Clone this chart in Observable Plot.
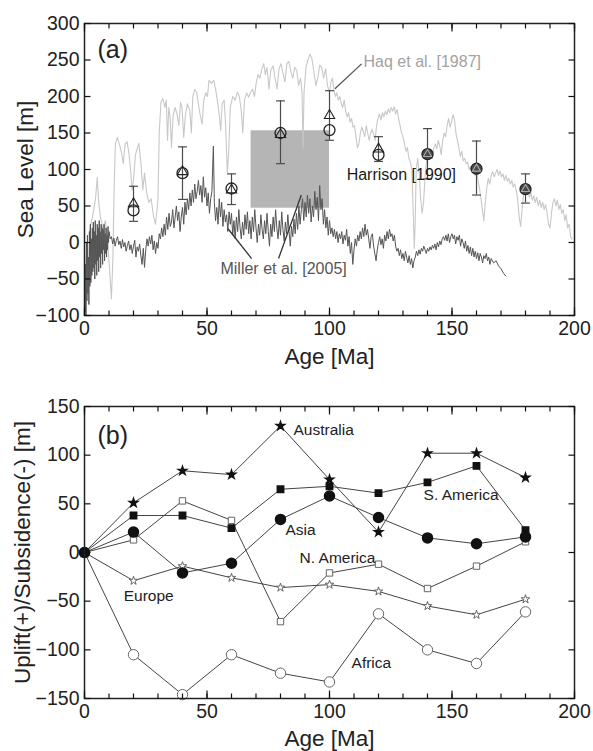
<!DOCTYPE html>
<html><head><meta charset="utf-8">
<script src="https://cdn.jsdelivr.net/npm/d3@7"></script>
<script src="https://cdn.jsdelivr.net/npm/@observablehq/plot@0.6"></script>
<style>
body{margin:0;background:#fff;}
#chart{width:593px;}
</style></head><body><div id="chart"></div>
<script>
// ---------- Panel (a) data ----------
const haqSeries = [
[2,15],[3.5,40],[4.5,60],[5.2,89],[5.8,55],[6.5,35],[7.5,20],[8.5,30],[9.5,0],[10.3,-40],[11.0,-77],[11.6,-20],
[12.0,60],[12.6,135],[13.4,144],[14.2,135],[15.0,125],[15.8,108],[16.6,135],[17.4,138],[18.2,120],[18.8,100],
[19.4,72],[20.0,85],[20.8,120],[21.6,130],[22.2,136],[23.0,110],[23.8,72],[24.5,95],[25.3,70],[26.2,55],[27.2,60],
[28.2,35],[29.0,25],[29.6,45],
[30.0,60],[30.5,150],[31.2,192],[32.0,197],[32.8,185],[33.4,195],[33.9,140],[34.4,185],[35.0,170],[35.5,130],
[36.2,175],[37.0,185],[37.8,175],[38.5,160],[39.2,192],[39.8,185],[40.5,144],[41.2,175],[42.0,190],[43.0,180],
[43.6,150],[44.2,200],[45.0,210],[45.8,205],[46.5,190],[47.2,175],[48.0,162],[48.7,195],[49.5,205],[50.2,200],
[50.8,222],[51.8,218],[52.8,222],[53.5,210],[54.2,195],[55.0,175],[55.6,153],[56.2,190],[57.0,195],[57.6,160],
[58.3,95],[58.8,120],[59.5,185],[60.5,200],[61.5,195],[62.4,206],[63.2,200],[64.0,180],[64.6,150],[65.3,195],
[66.2,205],[67.0,199],[67.8,206],[68.6,210],[69.4,200],[70.0,217],[70.8,230],[71.6,225],[72.4,238],[73.2,245],
[73.8,230],[74.5,240],[75.3,210],[76.0,236],[77.0,242],[77.8,225],[78.6,210],[79.4,238],[80.2,245],[81.0,232],
[81.8,220],[82.6,245],[83.4,248],[84.2,235],[85.0,225],[85.8,240],[86.6,236],[87.4,215],[88.2,225],[88.8,205],
[89.2,130],[89.6,205],[90.4,240],[91.2,250],[92.0,258],[92.8,252],[93.6,235],[94.4,215],[95.2,225],[96.0,243],
[96.8,240],[97.6,225],[98.4,238],[99.2,215],[100.0,205],
[100.6,220],[101.2,225],[101.8,210],[102.4,200],[103.0,205],
[103.6,195],[104.2,200],[104.8,190],[105.4,185],[106.0,195],[106.6,180],[107.2,172],[107.8,178],[108.4,165],
[109.0,170],[109.6,158],[110.2,160],[110.8,145],[111.4,130],[112.0,135],[112.6,150],[113.2,158],[113.8,152],
[114.4,145],[115.0,160],[115.6,150],[116.2,140],[116.8,150],[117.4,155],[118.0,148],[118.6,140],[119.2,160],
[119.8,170],[120.4,176],[121.0,168],[121.6,178],[122.2,172],[122.8,180],[123.4,175],[124.0,183],[124.6,178],
[125.2,185],[125.8,180],[126.4,186],[127.0,176],[127.6,182],[128.2,170],[128.8,160],[129.4,150],[130.0,145],
[130.6,135],[131.2,125],[131.8,130],[132.4,115],[133.0,110],[133.6,100],[134.2,40],[134.6,-8],[135.0,30],
[135.4,100],[136.0,115],[136.6,95],[137.2,60],[137.8,40],[138.4,55],[139.0,90],[139.6,110],[140.2,120],
[140.8,128],[141.4,125],[142.0,115],[142.6,130],[143.2,135],[143.8,128],[144.4,140],[145.0,132],[145.6,120],
[146.2,140],[146.8,150],[147.4,145],[148.0,160],[148.6,170],[149.2,158],[149.8,165],[150.4,175],[151.0,168],
[151.6,150],[152.2,140],[152.8,130],[153.4,118],[154.0,125],[154.6,112],[155.2,115],[155.8,108],[156.4,110],
[157.0,100],[157.6,104],[158.2,96],[158.8,100],[159.4,92],[160.0,98],[160.6,85],[161.2,75],[161.8,60],[162.4,45],
[163.0,30],[163.6,55],[164.2,75],[164.8,88],[165.4,80],[166.0,92],[166.6,97],[167.2,90],[167.8,95],[168.4,100],
[169.0,92],[169.6,98],[170.2,90],[170.8,94],[171.4,85],[172.0,92],[172.6,84],[173.2,88],[173.8,80],[174.4,85],
[175.0,76],[175.6,80],[176.2,72],[176.8,60],[177.4,35],[178.0,22],[178.6,45],[179.2,65],[179.8,72],[180.4,66],
[181.0,70],[181.6,62],[182.2,68],[182.8,58],[183.4,64],[184.0,55],[184.6,62],[185.2,50],[185.8,58],[186.4,48],
[187.0,55],[187.6,45],[188.2,52],[188.8,40],[189.4,25],[190.0,20],[190.6,40],[191.2,55],[191.8,60],[192.4,50],
[193.0,58],[193.6,45],[194.2,52],[194.8,40],[195.4,45],[196.0,30],[196.6,38],[197.2,20],[197.8,25],[198.4,8],[199.0,5]
];
const millerSeries = [
[0.0,-10],[0.2,-95],[0.4,-30],[0.6,-100],[0.8,0],[1.0,-80],[1.2,10],[1.4,-70],[1.6,-20],[1.8,-85],[2.0,15],
[2.2,-60],[2.4,25],[2.6,-55],[2.8,5],[3.0,-45],[3.2,20],[3.4,-40],[3.6,28],[3.8,-35],[4.0,15],[4.2,-50],[4.4,30],
[4.6,-30],[4.8,10],[5.0,-45],[5.2,25],[5.4,-25],[5.6,20],[5.8,-40],[6.0,30],[6.2,-20],[6.4,15],[6.6,-35],[6.8,25],
[7.0,-15],[7.2,20],[7.4,-30],[7.6,18],[7.8,-10],[8.0,25],[8.2,-25],[8.4,12],[8.6,-15],[8.8,20],[9.0,-20],[9.2,10],
[9.4,-10],[9.6,22],[9.8,0],[10.0,15],[10.5,5],[11.0,8],[11.5,-2],[12.0,6],[12.5,-5],[13.0,3],[13.5,8],[14.0,-3],
[14.5,2],[15.0,-8],[15.5,4],[16.0,-6],[16.5,0],[17.0,-12],[17.5,-4],[18.0,2],[18.5,-10],[19.0,-3],[19.5,-15],
[20.0,-5],[20.5,3],[21.0,-20],[21.5,-6],[22.0,-12],[22.5,-2],[23.0,-18],[23.5,-30],[24.0,-8],[24.5,-34],[25.0,-10],
[25.5,5],[26.0,-5],[26.5,8],[27.0,-2],[27.5,10],[28.0,-10],[28.5,2],[29.0,-15],[29.5,0],[30.0,-8],[30.5,12],
[31.0,5],[31.5,20],[32.0,8],[32.5,25],[33.0,10],[33.5,35],[34.0,18],[34.5,40],[35.0,22],[35.5,28],[36.0,45],
[36.5,20],[37.0,35],[37.5,50],[38.0,30],[38.5,42],[39.0,15],[39.5,35],[40.0,48],[40.5,25],[41.0,55],[41.5,38],
[42.0,60],[42.5,45],[43.0,68],[43.5,50],[44.0,72],[44.5,55],[45.0,80],[45.5,60],[46.0,70],[46.5,85],[47.0,65],
[47.5,78],[48.0,55],[48.5,90],[49.0,62],[49.5,75],[50.0,50],[50.5,68],[51.0,40],[51.5,60],[52.0,70],[52.6,132],
[53.0,55],[53.5,30],[54.0,48],[54.5,25],[55.0,60],[55.5,35],[56.0,55],[56.5,22],[57.0,45],[57.5,28],[58.0,38],
[58.5,15],[59.0,42],[59.5,25],[60.0,40],[60.5,10],[61.0,30],[61.5,5],[62.0,35],[62.5,15],[63.0,45],[63.5,20],
[64.0,5],[64.5,28],[65.0,10],[65.5,38],[66.0,18],[66.5,42],[67.0,12],[67.5,30],[68.0,5],[68.5,35],[69.0,15],
[69.5,45],[70.0,20],[70.5,0],[71.0,25],[71.5,10],[72.0,38],[72.5,18],[73.0,5],[73.5,30],[74.0,12],[74.5,40],
[75.0,15],[75.5,-5],[76.0,25],[76.5,8],[77.0,35],[77.5,15],[78.0,45],[78.5,20],[79.0,5],[79.5,30],[80.0,10],
[80.5,42],[81.0,18],[81.5,2],[82.0,28],[82.5,12],[83.0,38],[83.5,15],[84.0,-5],[84.5,22],[85.0,8],[85.5,32],
[86.0,12],[86.5,40],[87.0,18],[87.5,50],[88.0,25],[88.5,45],[89.0,60],[89.5,30],[90.0,55],[90.5,35],[91.0,65],
[91.5,40],[92.0,60],[92.5,28],[93.0,50],[93.5,35],[94.0,70],[94.5,45],[95.0,62],[95.5,30],[96.0,78],[96.5,45],
[97.0,60],[97.5,25],[98.0,45],[98.5,20],[99.0,35],[99.5,10],[100.0,30],[100.5,12],[101.0,20],[101.5,8],[102.0,18],
[102.5,5],[103.0,15],[103.5,0],[104.0,12],[104.5,5],[105.0,15],[105.5,-2],[106.0,10],[106.5,3],[107.0,18],
[107.5,-5],[108.0,8],[108.5,-15],[109.0,0],[109.5,-30],[110.0,-10],[110.5,5],[111.0,-5],[111.5,10],[112.0,2],
[112.5,15],[113.0,5],[113.5,20],[114.0,8],[114.5,25],[115.0,10],[115.5,18],[116.0,5],[116.5,-8],[117.0,8],
[117.5,12],[118.0,-5],[118.5,-15],[119.0,-25],[119.5,-10],[120.0,0],[120.5,8],[121.0,-3],[121.5,5],[122.0,-8],
[122.5,10],[123.0,2],[123.5,15],[124.0,5],[124.5,18],[125.0,8],[125.5,12],[126.0,2],[126.5,10],[127.0,-5],
[127.5,-12],[128.0,-8],[128.5,-18],[129.0,-10],[129.5,-22],[130.0,-15],[130.5,-25],[131.0,-12],[131.5,-20],
[132.0,-28],[132.5,-18],[133.0,-30],[133.5,-22],[134.0,-35],[134.5,-25],[135.0,-20],[135.5,-12],[136.0,-18],
[136.5,-10],[137.0,-16],[137.5,-8],[138.0,-12],[138.5,-5],[139.0,-10],[139.5,-15],[140.0,-8],[140.5,-12],
[141.0,-6],[141.5,-10],[142.0,-4],[142.5,-8],[143.0,-2],[143.5,-10],[144.0,0],[144.5,-6],[145.0,2],[145.5,-3],
[146.0,5],[146.5,8],[147.0,3],[147.5,10],[148.0,2],[148.5,12],[149.0,0],[149.5,8],[150.0,12],[150.5,5],[151.0,10],
[151.5,-2],[152.0,8],[152.5,3],[153.0,10],[153.5,-5],[154.0,5],[154.5,0],[155.0,-8],[155.5,2],[156.0,-12],
[156.5,-4],[157.0,-15],[157.5,-6],[158.0,-18],[158.5,-8],[159.0,-20],[159.5,-12],[160.0,-22],[160.5,-14],
[161.0,-25],[161.5,-15],[162.0,-20],[162.5,-28],[163.0,-18],[163.5,-22],[164.0,-15],[164.5,-25],[165.0,-20],
[165.5,-30],[166.0,-22],[167.0,-28],[168.0,-25],[169.0,-32],[170.0,-36],[171.0,-42],[172.0,-46]
];
const harrisonAge      = [20, 40, 60, 80, 100, 120, 140, 160, 180];
const harrisonCircle   = [44, 95, 74, 150, 154, 120, 121, 101, 73];
const harrisonTriangle = [53, 97, 72, 148, 174, 128, 121, 101, 73];
const harrisonLow      = [29, 59, 52, 108, 140, 111, 87, 65, 54];
const harrisonHigh     = [77, 131, 94, 194, 208, 145, 156, 139, 94];
const boxAge   = [68, 100];
const boxLevel = [47, 153];

// ---------- Panel (b) data ----------
const agesB     = [0, 20, 40, 60, 80, 100, 120, 140, 160, 180];
const australia = [0, 51, 84, 80, 130, 75, 21, 102, 102, 77];
const sAmerica  = [0, 38, 38, 25, 65, 68, 61, 72, 89, 23];
const asia      = [0, 21, -21, -11, 34, 58, 36, 15, 9, 16];
const nAmerica  = [0, 13, 53, 33, -71, -21, -12, -37, -14, 11];
const europe    = [0, -29, -14, -26, -36, -33, -40, -55, -64, -48];
const africa    = [0, -105, -146, -105, -124, -133, -63, -100, -114, -61];

// ---------- scales & ticks ----------
const xDomain   = [0, 200];
const yDomainA  = [-100, 300];
const yDomainB  = [-150, 150];
const xTickLabels  = [0, 50, 100, 150, 200];
const xMinorTicks  = [0,10,20,30,40,50,60,70,80,90,100,110,120,130,140,150,160,170,180,190,200];
const yTicksA      = [-100, -50, 0, 50, 100, 150, 200, 250, 300];
const yTicksB      = [-150, -100, -50, 0, 50, 100, 150];

// ---------- layout ----------
const WIDTH = 593, ML = 84, MR = 19;
const FONT = "'Liberation Sans', Arial, Helvetica, sans-serif";
const capSymbol = {draw(context, size) { const w = Math.sqrt(size) / 2; context.moveTo(-w, 0); context.lineTo(w, 0); }};
const stub = (dx, dy) => ({draw(context) { context.moveTo(0, 0); context.lineTo(dx, dy); }});

function inwardTicks(yDomain, yTicks) {
  const st = {fill: "none", stroke: "#111", strokeWidth: 1.2, r: 3};
  return [
    Plot.dot(xMinorTicks, {x: d => d, y: () => yDomain[0], symbol: stub(0, -5), ...st}),
    Plot.dot(xMinorTicks, {x: d => d, y: () => yDomain[1], symbol: stub(0, 5), ...st}),
    Plot.dot(xTickLabels, {x: d => d, y: () => yDomain[0], symbol: stub(0, -8), ...st}),
    Plot.dot(xTickLabels, {x: d => d, y: () => yDomain[1], symbol: stub(0, 8), ...st}),
    Plot.dot(yTicks, {x: () => xDomain[0], y: d => d, symbol: stub(6, 0), ...st}),
    Plot.dot(yTicks, {x: () => xDomain[1], y: d => d, symbol: stub(-6, 0), ...st})
  ];
}

function axesAndFrame(yDomain, yTicks, xLabel, yLabel, panelLabel, yLabelDx, xLabelDy, panelDy) {
  return [
    Plot.axisX({anchor: "bottom", ticks: xTickLabels, tickSize: 0, tickPadding: 6, label: null, fill: "#222"}),
    Plot.axisY({anchor: "left", ticks: yTicks, tickSize: 0, tickPadding: 5, label: null, fill: "#222"}),
    Plot.frame({stroke: "#222", strokeWidth: 1.5}),
    Plot.text([xLabel], {text: d => d, frameAnchor: "bottom", dy: xLabelDy, textAnchor: "middle", lineAnchor: "bottom", fontSize: 22.5, fill: "#222"}),
    Plot.text([yLabel], {text: d => d, frameAnchor: "left", rotate: -90, dx: yLabelDx, textAnchor: "middle", lineAnchor: "bottom", fontSize: 22.5, fill: "#222"}),
    Plot.text([panelLabel], {text: d => d, frameAnchor: "top-left", dx: 13, dy: panelDy, textAnchor: "start", lineAnchor: "middle", fontSize: 25, fill: "#222"}),
    ...inwardTicks(yDomain, yTicks)
  ];
}

// ---------- Panel (a) ----------
const haq = haqSeries.map(([age, level]) => ({age, level}));
const miller = millerSeries.map(([age, level]) => ({age, level}));
const harrison = harrisonAge.map((age, i) => ({age, circle: harrisonCircle[i], triangle: harrisonTriangle[i], low: harrisonLow[i], high: harrisonHigh[i]}));
const caps = harrison.flatMap(d => [{age: d.age, v: d.low}, {age: d.age, v: d.high}]);
const box = [{a1: boxAge[0], a2: boxAge[1], l1: boxLevel[0], l2: boxLevel[1]}];
const overlap = d => d.circle === d.triangle;

const labelsA = [
  {label: "Haq et al. [1987]", age: 113.9, level: 248, color: "#a2a2a2"},
  {label: "Harrison [1990]", age: 107, level: 92, color: "#1a1a1a"},
  {label: "Miller et al. [2005]", age: 55.5, level: -35.6, color: "#555"}
];
const leadersA = [
  {x1: 113.1, y1: 244.7, x2: 102.2, y2: 210.5, color: "#555"},
  {x1: 58.6, y1: 18.8, x2: 68.2, y2: -22, color: "#333"},
  {x1: 79.2, y1: -22, x2: 88.5, y2: 65, color: "#333"}
];

const plotA = Plot.plot({
  width: WIDTH, height: 372,
  marginTop: 23, marginBottom: 57, marginLeft: ML, marginRight: MR,
  style: {fontFamily: FONT, fontSize: "19.5px", background: "#fff", color: "#222"},
  x: {domain: xDomain},
  y: {domain: yDomainA},
  marks: [
    Plot.rect(box, {x1: "a1", x2: "a2", y1: "l1", y2: "l2", fill: "#b5b5b5"}),
    Plot.line(haq, {x: "age", y: "level", stroke: "#c8c8c8", strokeWidth: 1.1}),
    Plot.line(miller, {x: "age", y: "level", stroke: "#555", strokeWidth: 1}),
    Plot.ruleX(harrison, {x: "age", y1: "low", y2: "high", stroke: "#4a4a4a", strokeWidth: 1.2}),
    Plot.dot(caps, {x: "age", y: "v", symbol: capSymbol, r: 5, stroke: "#4a4a4a", fill: "none", strokeWidth: 1.2}),
    Plot.dot(harrison, {x: "age", y: "circle", r: 5.5, stroke: "#222", fill: d => overlap(d) ? "#4a4a4a" : "none", strokeWidth: 1.3}),
    Plot.dot(harrison, {x: "age", y: "triangle", symbol: "triangle", r: d => overlap(d) ? 2.6 : 4.2, stroke: d => overlap(d) ? "#aaa" : "#222", fill: "none", strokeWidth: 1.1}),
    Plot.link(leadersA, {x1: "x1", y1: "y1", x2: "x2", y2: "y2", stroke: d => d.color, strokeWidth: 1.3}),
    Plot.text(labelsA, {x: "age", y: "level", text: "label", fill: d => d.color, textAnchor: "start", fontSize: 16}),
    ...axesAndFrame(yDomainA, yTicksA, "Age [Ma]", "Sea Level [m]", "(a)", -52, 48, 26)
  ]
});

// ---------- Panel (b) ----------
const seriesB = [
  {name: "Australia", values: australia},
  {name: "S. America", values: sAmerica},
  {name: "Asia", values: asia},
  {name: "N. America", values: nAmerica},
  {name: "Europe", values: europe},
  {name: "Africa", values: africa}
];
const rowsB = seriesB.flatMap(s => agesB.map((age, i) => ({series: s.name, age, value: s.values[i]})));
const only = name => rowsB.filter(d => d.series === name);

const labelsB = [
  {label: "Australia", age: 85.3, value: 126},
  {label: "S. America", age: 138.4, value: 58.6},
  {label: "Asia", age: 82, value: 23.3},
  {label: "N. America", age: 87.8, value: -5.5},
  {label: "Europe", age: 16, value: -45.2},
  {label: "Africa", age: 109, value: -113.7}
];

const plotB = Plot.plot({
  width: WIDTH, height: 379,
  marginTop: 34, marginBottom: 53, marginLeft: ML, marginRight: MR,
  style: {fontFamily: FONT, fontSize: "19.5px", background: "#fff", color: "#222"},
  x: {domain: xDomain},
  y: {domain: yDomainB},
  marks: [
    Plot.line(rowsB, {x: "age", y: "value", z: "series", stroke: "#444", strokeWidth: 1}),
    Plot.dot(only("Africa"), {x: "age", y: "value", r: 5.2, stroke: "#666", fill: "white", strokeWidth: 1}),
    Plot.dot(only("Europe"), {x: "age", y: "value", symbol: "star", r: 2.7, stroke: "#666", fill: "white", strokeWidth: 1}),
    Plot.dot(only("N. America"), {x: "age", y: "value", symbol: "square", r: 3.6, stroke: "#666", fill: "white", strokeWidth: 1}),
    Plot.dot(only("Asia"), {x: "age", y: "value", r: 5, fill: "#111", stroke: "#111"}),
    Plot.dot(only("S. America"), {x: "age", y: "value", symbol: "square", r: 3.6, fill: "#111", stroke: "#111"}),
    Plot.dot(only("Australia"), {x: "age", y: "value", symbol: "star", r: 2.6, fill: "#111", stroke: "#111"}),
    Plot.text(labelsB, {x: "age", y: "value", text: "label", textAnchor: "start", fontSize: 15.5, fill: "#222"}),
    ...axesAndFrame(yDomainB, yTicksB, "Age [Ma]", "Uplift(+)/Subsidence(-) [m]", "(b)", -55, 47, 29)
  ]
});

document.getElementById("chart").append(plotA, plotB);
</script>
</body></html>
